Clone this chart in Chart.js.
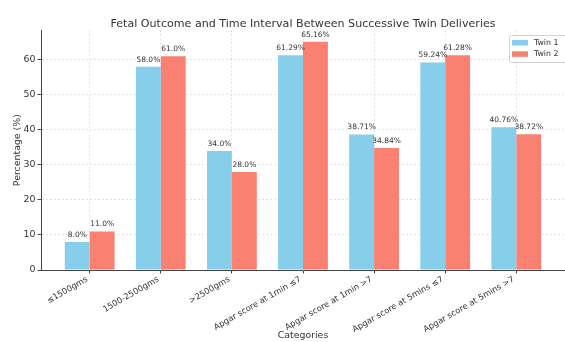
<!DOCTYPE html>
<html>
<head>
<meta charset="utf-8">
<script src="https://cdn.jsdelivr.net/npm/chart.js@4.4.1/dist/chart.umd.min.js"></script>
<style>
  html, body { margin: 0; padding: 0; background: #ffffff; }
  #wrap { width: 565px; height: 342px; position: relative; }
</style>
</head>
<body>
<div id="wrap"><canvas id="chart" width="565" height="342"></canvas></div>
<script>
// Birth weight and Apgar score groups
const categories = [
  '≤1500gms', '1500-2500gms', '>2500gms',
  'Apgar score at 1min ≤7', 'Apgar score at 1min >7',
  'Apgar score at 5mins ≤7', 'Apgar score at 5mins >7'
];
// Percentages per twin
const twin1 = [8.0, 58.0, 34.0, 61.29, 38.71, 59.24, 40.76];
const twin2 = [11.0, 61.0, 28.0, 65.16, 34.84, 61.28, 38.72];
// Decimal places shown in each group's value labels
const labelDecimals = [1, 1, 1, 2, 2, 2, 2];
const seriesNames = ['Twin 1', 'Twin 2'];
const yTicks = [0, 10, 20, 30, 40, 50, 60];

const COLORS = ['#87CEEB', '#FA8072'];
const TEXT = '#333333';
const FONT = "'DejaVu Sans', sans-serif";

// x extent: bars occupy +/-0.35 around each group, plus a 5% margin
const barHalf = 0.35;
const span = (categories.length - 1) + 2 * barHalf;
const xMin = -barHalf - 0.05 * span;
const xMax = (categories.length - 1) + barHalf + 0.05 * span;
const yMax = Math.max(...twin1, ...twin2) * 1.05;

const valueLabels = {
  id: 'valueLabels',
  afterDatasetsDraw(chart) {
    const ctx = chart.ctx;
    ctx.save();
    ctx.font = `7.5px ${FONT}`;
    ctx.fillStyle = TEXT;
    ctx.textAlign = 'center';
    ctx.textBaseline = 'alphabetic';
    chart.data.datasets.forEach((ds, di) => {
      const meta = chart.getDatasetMeta(di);
      meta.data.forEach((el, i) => {
        const v = ds.data[i].y;
        ctx.fillText(v.toFixed(labelDecimals[i]) + '%', el.x, el.y - 5);
      });
    });
    ctx.restore();
  }
};

const boxLegend = {
  id: 'boxLegend',
  afterDraw(chart) {
    const ctx = chart.ctx;
    const x0 = 509, y0 = 35, w = 60, h = 27;
    ctx.save();
    ctx.fillStyle = 'rgba(255,255,255,0.85)';
    ctx.strokeStyle = '#d0d0d0';
    ctx.lineWidth = 1;
    ctx.beginPath();
    ctx.roundRect(x0 + 0.5, y0 + 0.5, w, h, 2);
    ctx.fill();
    ctx.stroke();
    ctx.font = `7.8px ${FONT}`;
    ctx.textAlign = 'left';
    ctx.textBaseline = 'middle';
    chart.data.datasets.forEach((ds, i) => {
      const cy = y0 + 7.5 + i * 11.3;
      ctx.fillStyle = ds.backgroundColor;
      ctx.fillRect(x0 + 3, cy - 2.5, 16, 5.5);
      ctx.fillStyle = TEXT;
      ctx.fillText(ds.label, x0 + 25, cy + 0.5);
    });
    ctx.restore();
  }
};

new Chart(document.getElementById('chart'), {
  type: 'bar',
  data: {
    datasets: [twin1, twin2].map((vals, si) => ({
      label: seriesNames[si],
      data: vals.map((v, i) => ({ x: i, y: v })),
      backgroundColor: COLORS[si],
      borderWidth: 0,
      categoryPercentage: 2 * barHalf,
      barPercentage: 1.0
    }))
  },
  options: {
    responsive: false,
    animation: false,
    devicePixelRatio: 1,
    layout: { padding: { left: 0, right: 0, top: 0, bottom: 0 } },
    plugins: {
      legend: { display: false },
      tooltip: { enabled: false },
      title: {
        display: true,
        fullSize: false,
        text: 'Fetal Outcome and Time Interval Between Successive Twin Deliveries',
        color: TEXT,
        font: { family: FONT, size: 11.1, weight: 'normal', lineHeight: 1.2 },
        padding: { top: 17, bottom: 0 }
      }
    },
    scales: {
      x: {
        type: 'linear',
        offset: false,
        min: xMin,
        max: xMax,
        afterBuildTicks: s => { s.ticks = categories.map((_, i) => ({ value: i })); },
        afterFit: s => { s.height = 72; },
        ticks: {
          autoSkip: false,
          minRotation: 30,
          maxRotation: 30,
          padding: 1,
          labelOffset: -2.5,
          color: TEXT,
          font: { family: FONT, size: 8.3 },
          callback: v => categories[v]
        },
        grid: {
          offset: false,
          color: 'rgba(0,0,0,0.14)',
          lineWidth: 0.8,
          tickColor: '#444',
          tickLength: 3.5,
          tickWidth: 1,
          tickBorderDash: []
        },
        border: { display: true, color: '#444', width: 1, dash: [2, 2] },
        title: {
          display: true,
          text: 'Categories',
          color: TEXT,
          font: { family: FONT, size: 9.4 },
          padding: { top: 0, bottom: 1 }
        }
      },
      y: {
        min: 0,
        max: yMax,
        afterBuildTicks: s => { s.ticks = yTicks.map(v => ({ value: v })); },
        afterFit: s => { s.width = 41; },
        ticks: {
          padding: 2,
          color: TEXT,
          font: { family: FONT, size: 9.4 },
          callback: v => String(v)
        },
        grid: {
          color: 'rgba(0,0,0,0.14)',
          lineWidth: 0.8,
          tickColor: '#444',
          tickLength: 3.5,
          tickWidth: 1,
          tickBorderDash: []
        },
        border: { display: true, color: '#444', width: 1, dash: [2, 2] },
        title: {
          display: true,
          text: 'Percentage (%)',
          color: TEXT,
          font: { family: FONT, size: 9.4 },
          padding: { top: 12, bottom: 0 }
        }
      }
    }
  },
  plugins: [valueLabels, boxLegend]
});
</script>
</body>
</html>
